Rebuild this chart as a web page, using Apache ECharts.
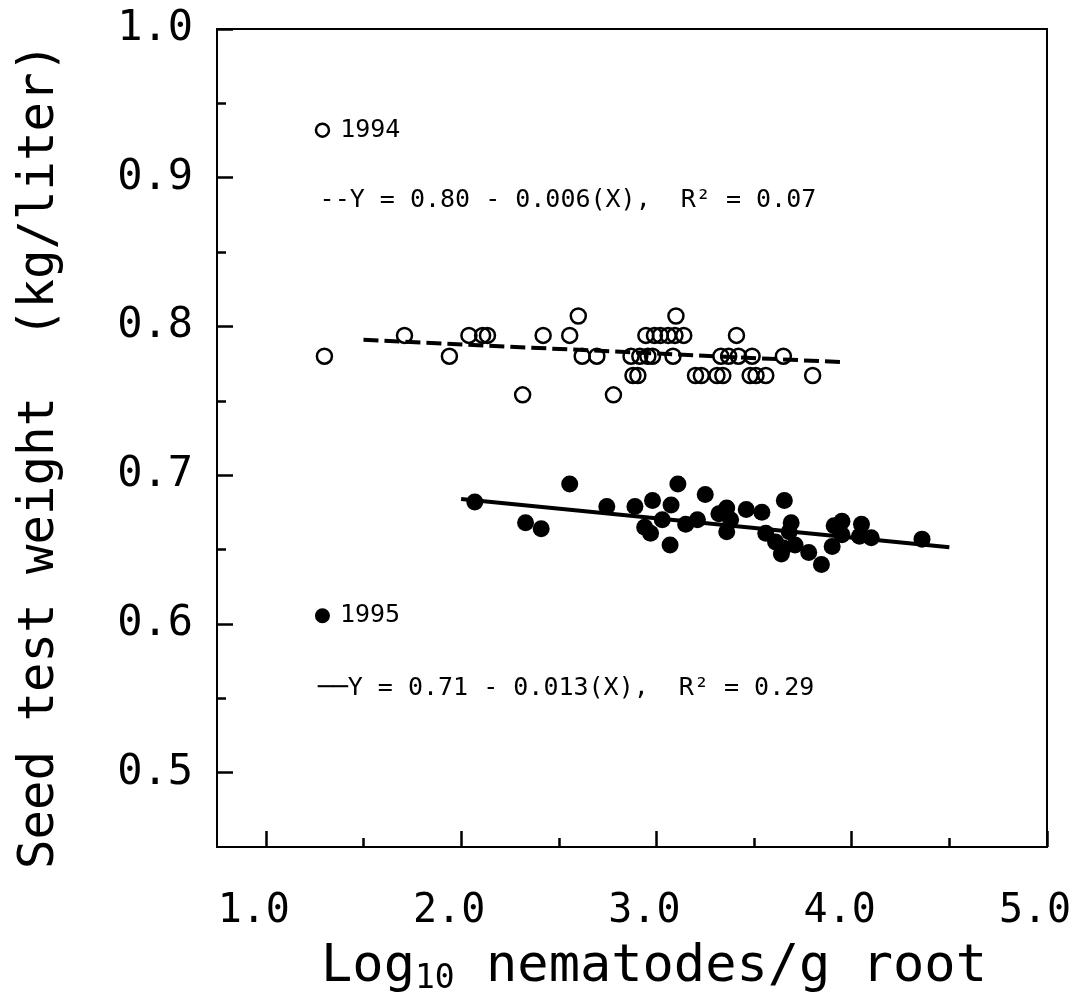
<!DOCTYPE html>
<html>
<head>
<meta charset="utf-8">
<script src="https://cdn.jsdelivr.net/npm/echarts@6/dist/echarts.min.js"></script>
<style>
html,body{margin:0;padding:0;background:#fff;}
#c{width:1086px;height:1008px;}
</style>
</head>
<body>
<div id="c"></div>
<script>
// ---- data ----
const data1994 = [
  [1.30,0.780],[1.71,0.794],[1.94,0.780],[2.04,0.794],[2.11,0.794],[2.135,0.794],
  [2.315,0.754],[2.42,0.794],[2.556,0.794],[2.60,0.807],[2.62,0.780],[2.695,0.780],
  [2.78,0.754],[2.88,0.767],[2.905,0.767],[2.87,0.780],[2.915,0.780],[2.956,0.780],
  [2.98,0.780],[2.946,0.794],[2.99,0.794],[3.02,0.794],[3.06,0.794],[3.095,0.794],
  [3.14,0.794],[3.10,0.807],[3.085,0.780],[3.20,0.767],[3.23,0.767],[3.31,0.767],
  [3.34,0.767],[3.33,0.780],[3.37,0.780],[3.41,0.794],[3.42,0.780],[3.49,0.780],
  [3.48,0.767],[3.51,0.767],[3.56,0.767],[3.65,0.780],[3.80,0.767]
];
const data1995 = [
  [2.07,0.682],[2.33,0.668],[2.41,0.664],[2.556,0.694],[2.746,0.679],[2.89,0.679],
  [2.94,0.665],[2.97,0.661],[2.98,0.683],[3.03,0.670],[3.07,0.653],[3.075,0.680],
  [3.11,0.694],[3.15,0.667],[3.21,0.670],[3.25,0.687],[3.32,0.674],[3.36,0.678],
  [3.38,0.670],[3.36,0.662],[3.46,0.677],[3.54,0.675],[3.56,0.661],[3.61,0.655],
  [3.64,0.647],[3.65,0.651],[3.655,0.683],[3.68,0.662],[3.69,0.668],[3.71,0.653],
  [3.78,0.648],[3.845,0.640],[3.90,0.652],[3.91,0.666],[3.95,0.669],[3.95,0.660],
  [4.04,0.659],[4.05,0.667],[4.10,0.658],[4.36,0.657]
];
const fit1994 = [[1.5,0.791],[3.95,0.776]];
const fit1995 = [[2.0,0.684],[4.5,0.6515]];

const xMajorTicks = [1,2,3,4,5];
const xMinorTicks = [1.5,2.5,3.5,4.5];
const yMajorTicks = [0.5,0.6,0.7,0.8,0.9,1.0];
const yMinorTicks = [0.55,0.65,0.75,0.85,0.95];

const key1994 = [[1.29,0.932]];
const key1995 = [[1.29,0.6055]];
const eq1994Pos = [[1.275,0.885]];
const eq1995Pos = [[1.265,0.5565]];
const label1994 = '1994';
const label1995 = '1995';
const eq1994 = '--Y = 0.80 - 0.006(X),  R² = 0.07';
const eq1995 = '──Y = 0.71 - 0.013(X),  R² = 0.29';

// ---- chart ----
const FONT = '"DejaVu Sans Mono", monospace';
const chart = echarts.init(document.getElementById('c'), null, {renderer:'canvas'});
const baseX = {type:'value', min:0.75, max:5, splitLine:{show:false}};
const baseY = {type:'value', min:0.45, max:1.0, splitLine:{show:false}};
const textLabel = (txt, dist) => ({show:true, position:'right', distance:dist, formatter:txt,
  color:'#000', opacity:1, fontFamily:FONT, fontSize:25});

chart.setOption({
  animation:false,
  backgroundColor:'#fff',
  grid:{left:217, top:29, right:39, bottom:161, show:true, borderColor:'#000', borderWidth:2, backgroundColor:'transparent'},
  xAxis:[
    Object.assign({}, baseX, {
      position:'bottom',
      axisLine:{show:true, lineStyle:{color:'#000', width:2}},
      axisTick:{show:true, inside:true, length:16, lineStyle:{color:'#000', width:2.5}, customValues:xMajorTicks},
      axisLabel:{show:true, customValues:xMajorTicks, formatter:v=>v.toFixed(1), margin:45,
        color:'#000', fontFamily:FONT, fontSize:40, padding:[0,24,0,0]},
      name:'Log{s|10} nematodes/g root', nameLocation:'middle', nameGap:92,
      nameTextStyle:{color:'#000', fontFamily:FONT, fontSize:52, padding:[0,0,0,44],
        rich:{s:{fontFamily:FONT, fontSize:33, color:'#000', padding:[24,0,0,0]}}}
    }),
    Object.assign({}, baseX, {
      position:'bottom',
      axisLine:{show:false},
      axisTick:{show:true, inside:true, length:9, lineStyle:{color:'#000', width:2.5}, customValues:xMinorTicks},
      axisLabel:{show:false}
    })
  ],
  yAxis:[
    Object.assign({}, baseY, {
      position:'left',
      axisLine:{show:true, lineStyle:{color:'#000', width:2}},
      axisTick:{show:true, inside:true, length:16, lineStyle:{color:'#000', width:2.5}, customValues:yMajorTicks},
      axisLabel:{show:true, customValues:yMajorTicks, formatter:v=>v.toFixed(1), margin:24,
        color:'#000', fontFamily:FONT, fontSize:42},
      name:'Seed test weight  (kg/liter)', nameLocation:'middle', nameGap:152,
      nameTextStyle:{color:'#000', fontFamily:FONT, fontSize:49, padding:[0,36,0,0]}
    }),
    Object.assign({}, baseY, {
      position:'left',
      axisLine:{show:false},
      axisTick:{show:true, inside:true, length:9, lineStyle:{color:'#000', width:2.5}, customValues:yMinorTicks},
      axisLabel:{show:false}
    })
  ],
  series:[
    {type:'line', data:fit1994, symbol:'none', z:2,
      lineStyle:{color:'#000', width:4, type:[15,6]}},
    {type:'line', data:fit1995, symbol:'none', z:2,
      lineStyle:{color:'#000', width:4}},
    {type:'scatter', data:data1994, symbol:'circle', symbolSize:15, z:3,
      itemStyle:{color:'transparent', borderColor:'#000', borderWidth:2.5, opacity:1}},
    {type:'scatter', data:data1995, symbol:'circle', symbolSize:17, z:3,
      itemStyle:{color:'#000', borderWidth:0, opacity:1}},
    {type:'scatter', data:key1994, symbol:'circle', symbolSize:13, z:3,
      itemStyle:{color:'transparent', borderColor:'#000', borderWidth:2.5, opacity:1},
      label:textLabel(label1994, 10)},
    {type:'scatter', data:key1995, symbol:'circle', symbolSize:15, z:3,
      itemStyle:{color:'#000', opacity:1},
      label:textLabel(label1995, 10)},
    {type:'scatter', data:eq1994Pos, symbolSize:0.1, itemStyle:{color:'transparent', opacity:1}, label:textLabel(eq1994, 0), z:3},
    {type:'scatter', data:eq1995Pos, symbolSize:0.1, itemStyle:{color:'transparent', opacity:1}, label:textLabel(eq1995, 0), z:3}
  ]
});
</script>
</body>
</html>
